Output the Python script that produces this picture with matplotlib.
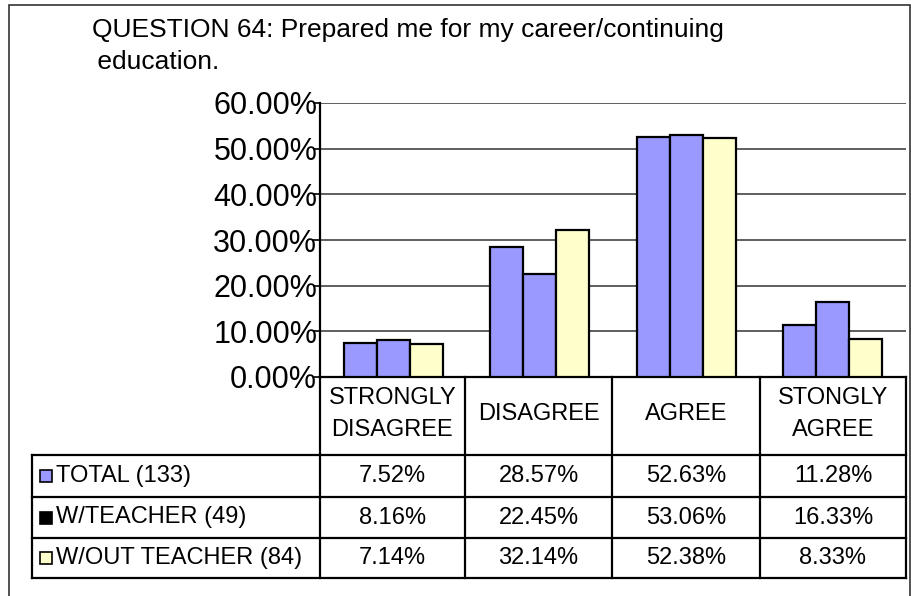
import matplotlib
matplotlib.use("Agg")
import matplotlib.pyplot as plt
from matplotlib.patches import Rectangle
from matplotlib.lines import Line2D
from matplotlib.ticker import FuncFormatter

plt.rcParams['font.family'] = ['Liberation Sans', 'DejaVu Sans']

categories = ["STRONGLY\nDISAGREE", "DISAGREE", "AGREE", "STONGLY\nAGREE"]
series_names = ["TOTAL (133)", "W/TEACHER (49)", "W/OUT TEACHER (84)"]
total = [7.52, 28.57, 52.63, 11.28]
with_teacher = [8.16, 22.45, 53.06, 16.33]
without_teacher = [7.14, 32.14, 52.38, 8.33]
series = [total, with_teacher, without_teacher]
bar_colors = ["#9999FF", "#9999FF", "#FFFFCC"]
legend_colors = ["#9999FF", "#000000", "#FFFFCC"]
yticks = [0, 10, 20, 30, 40, 50, 60]

W, H = 912, 596
fig = plt.figure(figsize=(W / 100, H / 100), dpi=100)

def fx(x):
    return x / W

def fy(y):
    return 1 - y / H

# outer border
fig.add_artist(Rectangle((fx(9), fy(597)), fx(910) - fx(9), fy(5) - fy(597),
                         transform=fig.transFigure, fill=False, lw=1.2, ec="#333333"))

# title
fig.text(fx(92), fy(30), "QUESTION 64: Prepared me for my career/continuing",
         fontsize=19, ha="left", va="center")
fig.text(fx(90), fy(62), " education.", fontsize=19, ha="left", va="center")

# plot axes
x0, x1, ytop, ybot = 320, 906, 103, 377
ax = fig.add_axes([fx(x0), fy(ybot), fx(x1) - fx(x0), fy(ytop) - fy(ybot)])
bw = 0.225
for k, (vals, col) in enumerate(zip(series, bar_colors)):
    xs = [i + (k - 1) * bw for i in range(len(categories))]
    ax.bar(xs, vals, width=bw, color=col, edgecolor="black", lw=1.6, zorder=3)
ax.set_xlim(-0.5, len(categories) - 0.5)
ax.set_ylim(0, 60)
ax.set_yticks(yticks)
ax.yaxis.set_major_formatter(FuncFormatter(lambda v, p: f"{v:.2f}%"))
ax.tick_params(axis="y", labelsize=22, length=5, width=1.2, pad=-3, direction="out")
ax.set_xticks([])
ax.yaxis.grid(True, color="#333333", lw=1.1, zorder=0)
for s in ["top", "right"]:
    ax.spines[s].set_visible(False)
ax.spines["left"].set_linewidth(1.6)
ax.spines["bottom"].set_linewidth(1.6)

# table
bounds = [320, 465, 612, 760, 906]
tleft = 32
rows_y = [455, 497, 538, 578]
lw = 1.6

def line(xa, ya, xb, yb):
    fig.add_artist(Line2D([fx(xa), fx(xb)], [fy(ya), fy(yb)], transform=fig.transFigure,
                          color="black", lw=lw))

for b in bounds:
    line(b, 377, b, 578)
line(tleft, 455, tleft, 578)
for ry in rows_y:
    line(tleft, ry, 906, ry)

for i, cat in enumerate(categories):
    cx = (bounds[i] + bounds[i + 1]) / 2
    fig.text(fx(cx), fy(414), cat, fontsize=17, ha="center", va="center", linespacing=1.6)

for r, (name, vals, lc) in enumerate(zip(series_names, series, legend_colors)):
    cy = (rows_y[r] + rows_y[r + 1]) / 2
    fig.add_artist(Rectangle((fx(40), fy(cy + 6)), fx(12), 12 / H, transform=fig.transFigure,
                             fc=lc, ec="black", lw=1.2))
    fig.text(fx(56), fy(cy), name, fontsize=17, ha="left", va="center")
    for i, v in enumerate(vals):
        cx = (bounds[i] + bounds[i + 1]) / 2
        fig.text(fx(cx), fy(cy), f"{v:.2f}%", fontsize=17, ha="center", va="center")

fig.savefig("out.png", dpi=100)
